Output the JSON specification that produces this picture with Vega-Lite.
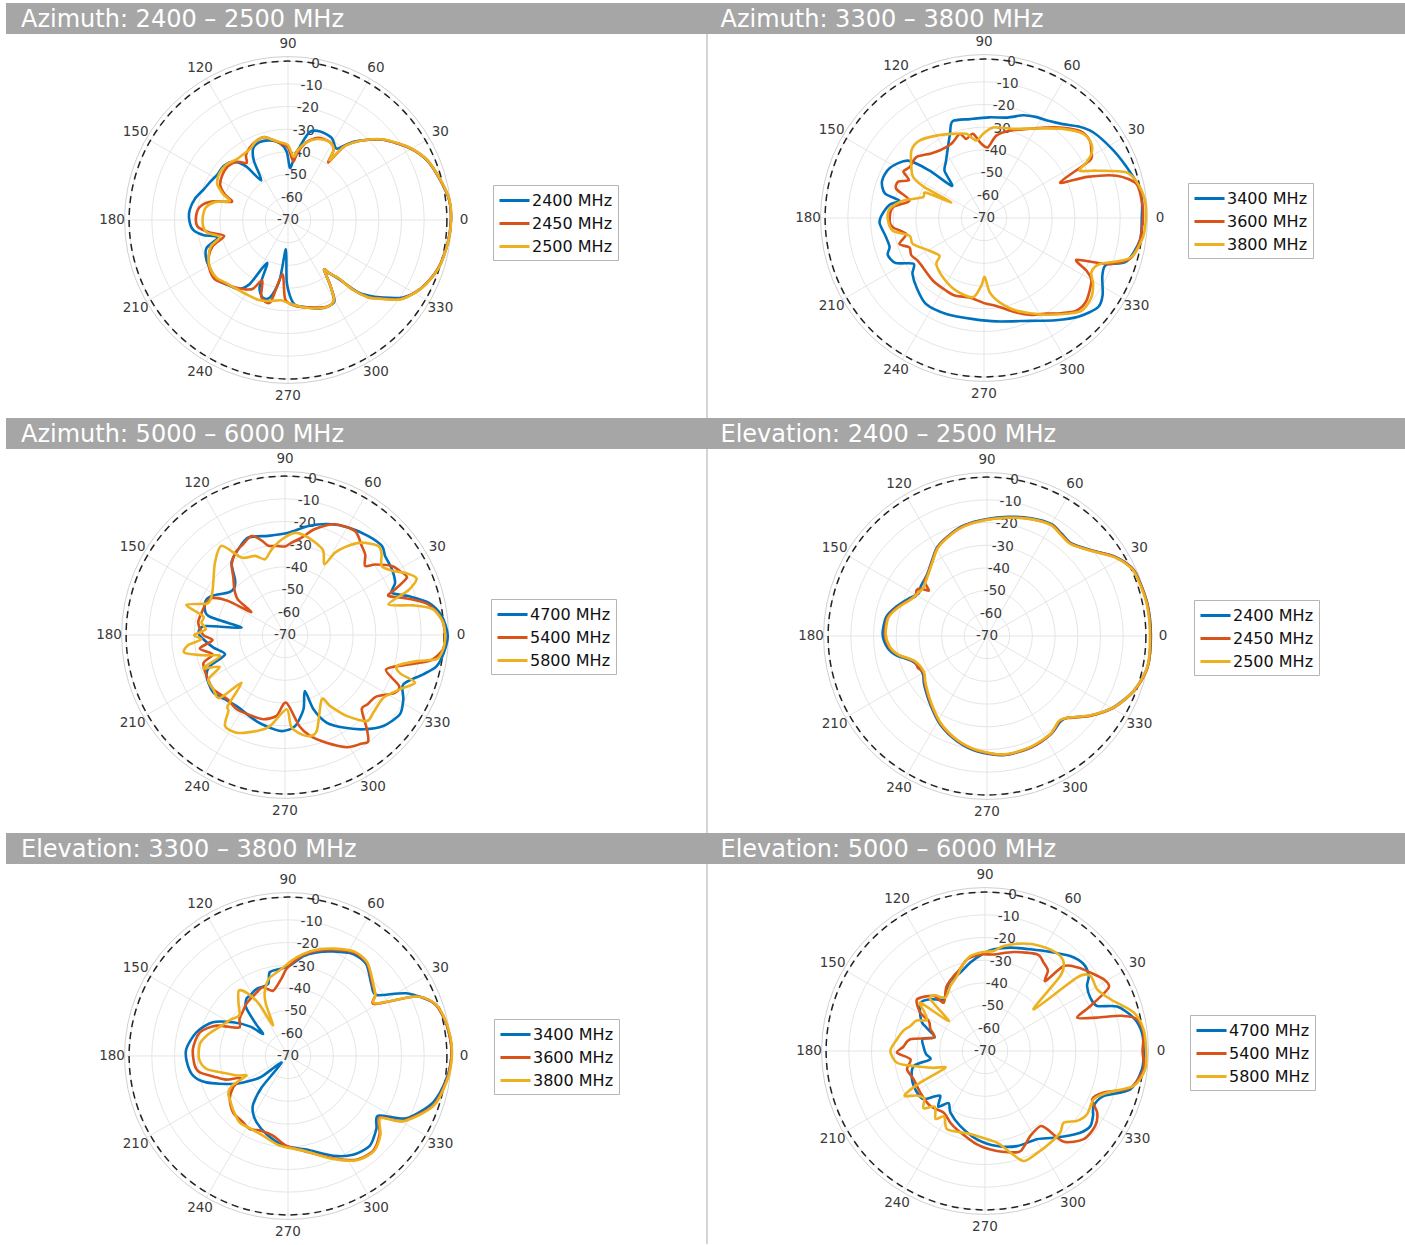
{
"$schema": "https://vega.github.io/schema/vega-lite/v6.json",
"background": "white",
"padding": {"left": 6, "top": 3, "right": 0, "bottom": 0},
"spacing": 0,
"config": {"font": "DejaVu Sans", "view": {"stroke": null}, "legend": {"title": null, "orient": "none", "direction": "vertical", "symbolType": "M-1.67,0L1.67,0", "symbolSize": 324, "symbolStrokeWidth": 3, "symbolOffset": 6, "labelFontSize": 16, "labelFont": "DejaVu Sans", "labelColor": "#111111", "labelOffset": 7, "rowPadding": 4, "padding": 5, "strokeColor": "#b5b5b5", "fillColor": "white"}},
"resolve": {"scale": {"color": "independent", "size": "independent", "x": "independent", "y": "independent"}, "legend": {"color": "independent"}},
"datasets": {
"spokes": [{"a":0},{"a":30},{"a":60},{"a":90},{"a":120},{"a":150},{"a":180},{"a":210},{"a":240},{"a":270},{"a":300},{"a":330}],
"alabels": [{"a":0},{"a":30},{"a":60},{"a":90},{"a":120},{"a":150},{"a":180},{"a":210},{"a":240},{"a":270},{"a":300},{"a":330}],
"rings": [{"r":10},{"r":20},{"r":30},{"r":40},{"r":50},{"r":60},{"r":70}],
"rlabels": [{"v":0},{"v":-10},{"v":-20},{"v":-30},{"v":-40},{"v":-50},{"v":-60},{"v":-70}],
"d1": [
{"f":"2400 MHz","a":0,"g":1.8},{"f":"2400 MHz","a":7,"g":1.6},{"f":"2400 MHz","a":14,"g":-0.4},{"f":"2400 MHz","a":23,"g":-3.2},{"f":"2400 MHz","a":31,"g":-8},{"f":"2400 MHz","a":40,"g":-15},{"f":"2400 MHz","a":45,"g":-20},{"f":"2400 MHz","a":50,"g":-25},{"f":"2400 MHz","a":53,"g":-29},{"f":"2400 MHz","a":56,"g":-32},{"f":"2400 MHz","a":62,"g":-29},{"f":"2400 MHz","a":70,"g":-28.5},{"f":"2400 MHz","a":76,"g":-30},{"f":"2400 MHz","a":80,"g":-36},{"f":"2400 MHz","a":85,"g":-44},{"f":"2400 MHz","a":88,"g":-47},{"f":"2400 MHz","a":91,"g":-40},{"f":"2400 MHz","a":96,"g":-36},{"f":"2400 MHz","a":103,"g":-34},{"f":"2400 MHz","a":110,"g":-33.5},{"f":"2400 MHz","a":116,"g":-35},{"f":"2400 MHz","a":120,"g":-40},{"f":"2400 MHz","a":124,"g":-49},{"f":"2400 MHz","a":128,"g":-40},{"f":"2400 MHz","a":133,"g":-35},{"f":"2400 MHz","a":140,"g":-33},{"f":"2400 MHz","a":147,"g":-33},{"f":"2400 MHz","a":153,"g":-32},{"f":"2400 MHz","a":160,"g":-30.5},{"f":"2400 MHz","a":167,"g":-28},{"f":"2400 MHz","a":174,"g":-26.5},{"f":"2400 MHz","a":180,"g":-26.5},{"f":"2400 MHz","a":186,"g":-28},{"f":"2400 MHz","a":190,"g":-32},{"f":"2400 MHz","a":194,"g":-38},{"f":"2400 MHz","a":199,"g":-32},{"f":"2400 MHz","a":206,"g":-30},{"f":"2400 MHz","a":213,"g":-29.5},{"f":"2400 MHz","a":220,"g":-29},{"f":"2400 MHz","a":227,"g":-31},{"f":"2400 MHz","a":234,"g":-32.5},{"f":"2400 MHz","a":239,"g":-37},{"f":"2400 MHz","a":244,"g":-49},{"f":"2400 MHz","a":247,"g":-38},{"f":"2400 MHz","a":252,"g":-34},{"f":"2400 MHz","a":257,"g":-35},{"f":"2400 MHz","a":262,"g":-43},{"f":"2400 MHz","a":266,"g":-57},{"f":"2400 MHz","a":269,"g":-42},{"f":"2400 MHz","a":274,"g":-33},{"f":"2400 MHz","a":283,"g":-30.5},{"f":"2400 MHz","a":290,"g":-28.5},{"f":"2400 MHz","a":296,"g":-28},{"f":"2400 MHz","a":300,"g":-29},{"f":"2400 MHz","a":303,"g":-36},{"f":"2400 MHz","a":306,"g":-43},{"f":"2400 MHz","a":308,"g":-40},{"f":"2400 MHz","a":311,"g":-35},{"f":"2400 MHz","a":314,"g":-26},{"f":"2400 MHz","a":317,"g":-21},{"f":"2400 MHz","a":320,"g":-17},{"f":"2400 MHz","a":326,"g":-9},{"f":"2400 MHz","a":333,"g":-4},{"f":"2400 MHz","a":342,"g":-0.5},{"f":"2400 MHz","a":352,"g":1.1},
{"f":"2450 MHz","a":0,"g":1.8},{"f":"2450 MHz","a":7,"g":1.6},{"f":"2450 MHz","a":14,"g":-0.4},{"f":"2450 MHz","a":23,"g":-3.2},{"f":"2450 MHz","a":31,"g":-8},{"f":"2450 MHz","a":40,"g":-15},{"f":"2450 MHz","a":45,"g":-20},{"f":"2450 MHz","a":50,"g":-25.5},{"f":"2450 MHz","a":53,"g":-30},{"f":"2450 MHz","a":55,"g":-39},{"f":"2450 MHz","a":57,"g":-33},{"f":"2450 MHz","a":62,"g":-31},{"f":"2450 MHz","a":70,"g":-31.5},{"f":"2450 MHz","a":77,"g":-35},{"f":"2450 MHz","a":82,"g":-40},{"f":"2450 MHz","a":85,"g":-44},{"f":"2450 MHz","a":90,"g":-38},{"f":"2450 MHz","a":96,"g":-36},{"f":"2450 MHz","a":101,"g":-34},{"f":"2450 MHz","a":106,"g":-32},{"f":"2450 MHz","a":112,"g":-32.5},{"f":"2450 MHz","a":118,"g":-34},{"f":"2450 MHz","a":123,"g":-36},{"f":"2450 MHz","a":126,"g":-39},{"f":"2450 MHz","a":131,"g":-36},{"f":"2450 MHz","a":138,"g":-34.5},{"f":"2450 MHz","a":146,"g":-35},{"f":"2450 MHz","a":153,"g":-36.5},{"f":"2450 MHz","a":158,"g":-40},{"f":"2450 MHz","a":162,"g":-44},{"f":"2450 MHz","a":166,"g":-36},{"f":"2450 MHz","a":171,"g":-31},{"f":"2450 MHz","a":177,"g":-29.5},{"f":"2450 MHz","a":184,"g":-30},{"f":"2450 MHz","a":189,"g":-35},{"f":"2450 MHz","a":194,"g":-41},{"f":"2450 MHz","a":199,"g":-35},{"f":"2450 MHz","a":206,"g":-31},{"f":"2450 MHz","a":213,"g":-29},{"f":"2450 MHz","a":219,"g":-28.5},{"f":"2450 MHz","a":225,"g":-30.5},{"f":"2450 MHz","a":231,"g":-32},{"f":"2450 MHz","a":238,"g":-34},{"f":"2450 MHz","a":243,"g":-36},{"f":"2450 MHz","a":247,"g":-41},{"f":"2450 MHz","a":251,"g":-34},{"f":"2450 MHz","a":258,"g":-33},{"f":"2450 MHz","a":264,"g":-46},{"f":"2450 MHz","a":268,"g":-35},{"f":"2450 MHz","a":275,"g":-32},{"f":"2450 MHz","a":283,"g":-30.5},{"f":"2450 MHz","a":290,"g":-29},{"f":"2450 MHz","a":295,"g":-28},{"f":"2450 MHz","a":300,"g":-29.5},{"f":"2450 MHz","a":303,"g":-36},{"f":"2450 MHz","a":306,"g":-43},{"f":"2450 MHz","a":308,"g":-40},{"f":"2450 MHz","a":311,"g":-36},{"f":"2450 MHz","a":313,"g":-28},{"f":"2450 MHz","a":316,"g":-21},{"f":"2450 MHz","a":319,"g":-17.4},{"f":"2450 MHz","a":325,"g":-9.3},{"f":"2450 MHz","a":333,"g":-4},{"f":"2450 MHz","a":342,"g":-0.5},{"f":"2450 MHz","a":352,"g":1.1},
{"f":"2500 MHz","a":0,"g":1.9},{"f":"2500 MHz","a":7,"g":1.7},{"f":"2500 MHz","a":14,"g":-0.3},{"f":"2500 MHz","a":23,"g":-3.1},{"f":"2500 MHz","a":31,"g":-7.8},{"f":"2500 MHz","a":40,"g":-14.8},{"f":"2500 MHz","a":45,"g":-19.8},{"f":"2500 MHz","a":50,"g":-25.5},{"f":"2500 MHz","a":53,"g":-30},{"f":"2500 MHz","a":55,"g":-38},{"f":"2500 MHz","a":57,"g":-33},{"f":"2500 MHz","a":62,"g":-31},{"f":"2500 MHz","a":70,"g":-32},{"f":"2500 MHz","a":77,"g":-35},{"f":"2500 MHz","a":82,"g":-39},{"f":"2500 MHz","a":85,"g":-42},{"f":"2500 MHz","a":90,"g":-37},{"f":"2500 MHz","a":96,"g":-35.5},{"f":"2500 MHz","a":101,"g":-34},{"f":"2500 MHz","a":106,"g":-32},{"f":"2500 MHz","a":112,"g":-32.5},{"f":"2500 MHz","a":118,"g":-34.5},{"f":"2500 MHz","a":124,"g":-35},{"f":"2500 MHz","a":130,"g":-35},{"f":"2500 MHz","a":138,"g":-33.5},{"f":"2500 MHz","a":146,"g":-33.5},{"f":"2500 MHz","a":153,"g":-35},{"f":"2500 MHz","a":158,"g":-39},{"f":"2500 MHz","a":162,"g":-43},{"f":"2500 MHz","a":166,"g":-37},{"f":"2500 MHz","a":171,"g":-33.5},{"f":"2500 MHz","a":177,"g":-32.5},{"f":"2500 MHz","a":184,"g":-32.5},{"f":"2500 MHz","a":189,"g":-34},{"f":"2500 MHz","a":194,"g":-39},{"f":"2500 MHz","a":199,"g":-34},{"f":"2500 MHz","a":206,"g":-31},{"f":"2500 MHz","a":213,"g":-29.5},{"f":"2500 MHz","a":219,"g":-29.5},{"f":"2500 MHz","a":225,"g":-31},{"f":"2500 MHz","a":232,"g":-32},{"f":"2500 MHz","a":240,"g":-32.5},{"f":"2500 MHz","a":250,"g":-32.5},{"f":"2500 MHz","a":258,"g":-33.5},{"f":"2500 MHz","a":265,"g":-34.5},{"f":"2500 MHz","a":272,"g":-33},{"f":"2500 MHz","a":280,"g":-31},{"f":"2500 MHz","a":288,"g":-29},{"f":"2500 MHz","a":295,"g":-28},{"f":"2500 MHz","a":300,"g":-29.5},{"f":"2500 MHz","a":303,"g":-36},{"f":"2500 MHz","a":306,"g":-43},{"f":"2500 MHz","a":308,"g":-40},{"f":"2500 MHz","a":311,"g":-36},{"f":"2500 MHz","a":313,"g":-28},{"f":"2500 MHz","a":316,"g":-21},{"f":"2500 MHz","a":319,"g":-17.2},{"f":"2500 MHz","a":325,"g":-9.1},{"f":"2500 MHz","a":333,"g":-3.9},{"f":"2500 MHz","a":342,"g":-0.4},{"f":"2500 MHz","a":352,"g":1.2}
],
"d2": [
{"f":"3400 MHz","a":0,"g":-0.5},{"f":"3400 MHz","a":6,"g":0},{"f":"3400 MHz","a":11,"g":-0.2},{"f":"3400 MHz","a":20,"g":-3.4},{"f":"3400 MHz","a":28,"g":-5.8},{"f":"3400 MHz","a":38,"g":-8.8},{"f":"3400 MHz","a":44,"g":-12},{"f":"3400 MHz","a":50,"g":-16},{"f":"3400 MHz","a":56,"g":-18.5},{"f":"3400 MHz","a":63,"g":-20},{"f":"3400 MHz","a":69,"g":-21.5},{"f":"3400 MHz","a":77,"g":-24.6},{"f":"3400 MHz","a":87,"g":-25.6},{"f":"3400 MHz","a":98,"g":-26},{"f":"3400 MHz","a":108,"g":-25.2},{"f":"3400 MHz","a":112,"g":-30},{"f":"3400 MHz","a":117,"g":-35},{"f":"3400 MHz","a":124,"g":-40},{"f":"3400 MHz","a":130,"g":-43},{"f":"3400 MHz","a":135,"g":-50},{"f":"3400 MHz","a":139,"g":-38},{"f":"3400 MHz","a":143,"g":-28},{"f":"3400 MHz","a":152,"g":-23},{"f":"3400 MHz","a":160,"g":-22.2},{"f":"3400 MHz","a":166,"g":-25},{"f":"3400 MHz","a":168.5,"g":-32},{"f":"3400 MHz","a":172,"g":-28},{"f":"3400 MHz","a":179,"g":-24.7},{"f":"3400 MHz","a":183,"g":-24},{"f":"3400 MHz","a":191,"g":-26},{"f":"3400 MHz","a":197,"g":-26.5},{"f":"3400 MHz","a":201,"g":-24.6},{"f":"3400 MHz","a":207,"g":-26.3},{"f":"3400 MHz","a":213,"g":-33},{"f":"3400 MHz","a":218,"g":-30},{"f":"3400 MHz","a":226,"g":-27.3},{"f":"3400 MHz","a":236,"g":-24.3},{"f":"3400 MHz","a":249,"g":-24.6},{"f":"3400 MHz","a":264,"g":-25.2},{"f":"3400 MHz","a":277,"g":-24.1},{"f":"3400 MHz","a":294,"g":-20.4},{"f":"3400 MHz","a":305,"g":-15},{"f":"3400 MHz","a":314,"g":-9.7},{"f":"3400 MHz","a":322,"g":-6.2},{"f":"3400 MHz","a":327,"g":-7.7},{"f":"3400 MHz","a":334,"g":-12},{"f":"3400 MHz","a":339,"g":-12.4},{"f":"3400 MHz","a":343,"g":-4.4},{"f":"3400 MHz","a":352,"g":-0.6},
{"f":"3600 MHz","a":0,"g":0},{"f":"3600 MHz","a":5,"g":0},{"f":"3600 MHz","a":12.6,"g":-1.2},{"f":"3600 MHz","a":17.7,"g":-8.7},{"f":"3600 MHz","a":21.7,"g":-21},{"f":"3600 MHz","a":25,"g":-33},{"f":"3600 MHz","a":28.5,"g":-17},{"f":"3600 MHz","a":31.5,"g":-14.6},{"f":"3600 MHz","a":36,"g":-12.3},{"f":"3600 MHz","a":42,"g":-12.8},{"f":"3600 MHz","a":50,"g":-18},{"f":"3600 MHz","a":56,"g":-22},{"f":"3600 MHz","a":63,"g":-25.9},{"f":"3600 MHz","a":73.6,"g":-29.9},{"f":"3600 MHz","a":81.5,"g":-33.3},{"f":"3600 MHz","a":86.8,"g":-38.8},{"f":"3600 MHz","a":92,"g":-37.3},{"f":"3600 MHz","a":97.5,"g":-32.6},{"f":"3600 MHz","a":102.6,"g":-34.3},{"f":"3600 MHz","a":106.2,"g":-31.5},{"f":"3600 MHz","a":113.8,"g":-34.3},{"f":"3600 MHz","a":123.4,"g":-34.4},{"f":"3600 MHz","a":130,"g":-33},{"f":"3600 MHz","a":138,"g":-29.9},{"f":"3600 MHz","a":145.7,"g":-30.3},{"f":"3600 MHz","a":150,"g":-29},{"f":"3600 MHz","a":153.3,"g":-33},{"f":"3600 MHz","a":157,"g":-29},{"f":"3600 MHz","a":161.7,"g":-29.3},{"f":"3600 MHz","a":166.9,"g":-36.3},{"f":"3600 MHz","a":173.3,"g":-29.6},{"f":"3600 MHz","a":181.6,"g":-28.4},{"f":"3600 MHz","a":185.9,"g":-29.7},{"f":"3600 MHz","a":191.6,"g":-35},{"f":"3600 MHz","a":197,"g":-31},{"f":"3600 MHz","a":201.5,"g":-34.7},{"f":"3600 MHz","a":207,"g":-34},{"f":"3600 MHz","a":212.9,"g":-35.3},{"f":"3600 MHz","a":219,"g":-35.4},{"f":"3600 MHz","a":230.9,"g":-34.4},{"f":"3600 MHz","a":242.6,"g":-33.9},{"f":"3600 MHz","a":250,"g":-33.5},{"f":"3600 MHz","a":259.8,"g":-34.4},{"f":"3600 MHz","a":270,"g":-32.5},{"f":"3600 MHz","a":278,"g":-30.9},{"f":"3600 MHz","a":288.9,"g":-26},{"f":"3600 MHz","a":296,"g":-22.5},{"f":"3600 MHz","a":303.2,"g":-19.7},{"f":"3600 MHz","a":309,"g":-16},{"f":"3600 MHz","a":314.9,"g":-12.4},{"f":"3600 MHz","a":321,"g":-12},{"f":"3600 MHz","a":329.7,"g":-15.2},{"f":"3600 MHz","a":332.8,"g":-19.3},{"f":"3600 MHz","a":335.7,"g":-25.3},{"f":"3600 MHz","a":339.4,"g":-12.4},{"f":"3600 MHz","a":344.3,"g":-3.3},{"f":"3600 MHz","a":351.7,"g":-0.6},
{"f":"3800 MHz","a":0,"g":1.3},{"f":"3800 MHz","a":6.2,"g":1.3},{"f":"3800 MHz","a":12.5,"g":-0.5},{"f":"3800 MHz","a":17.8,"g":-4.2},{"f":"3800 MHz","a":22.8,"g":-16.2},{"f":"3800 MHz","a":26.3,"g":-23},{"f":"3800 MHz","a":28.5,"g":-18.6},{"f":"3800 MHz","a":30.8,"g":-14.9},{"f":"3800 MHz","a":34.6,"g":-12.5},{"f":"3800 MHz","a":40.3,"g":-12.7},{"f":"3800 MHz","a":48.4,"g":-17.5},{"f":"3800 MHz","a":59.7,"g":-24.3},{"f":"3800 MHz","a":72,"g":-28.7},{"f":"3800 MHz","a":84.3,"g":-29.9},{"f":"3800 MHz","a":90.7,"g":-33},{"f":"3800 MHz","a":95.7,"g":-35.7},{"f":"3800 MHz","a":101.9,"g":-32.1},{"f":"3800 MHz","a":110.3,"g":-30.5},{"f":"3800 MHz","a":120,"g":-28.1},{"f":"3800 MHz","a":129.8,"g":-25.6},{"f":"3800 MHz","a":137,"g":-26.3},{"f":"3800 MHz","a":145,"g":-30.9},{"f":"3800 MHz","a":150,"g":-34},{"f":"3800 MHz","a":152.5,"g":-40},{"f":"3800 MHz","a":154.4,"g":-54},{"f":"3800 MHz","a":156.5,"g":-42},{"f":"3800 MHz","a":161.3,"g":-41.6},{"f":"3800 MHz","a":167.9,"g":-33.5},{"f":"3800 MHz","a":174.5,"g":-28.2},{"f":"3800 MHz","a":180.6,"g":-27.6},{"f":"3800 MHz","a":187.9,"g":-29.4},{"f":"3800 MHz","a":193.4,"g":-36.3},{"f":"3800 MHz","a":200.1,"g":-36.6},{"f":"3800 MHz","a":211,"g":-42},{"f":"3800 MHz","a":220.4,"g":-44.3},{"f":"3800 MHz","a":224,"g":-40.8},{"f":"3800 MHz","a":235.4,"g":-38.2},{"f":"3800 MHz","a":249,"g":-35.7},{"f":"3800 MHz","a":262,"g":-34.7},{"f":"3800 MHz","a":267.7,"g":-40.1},{"f":"3800 MHz","a":270.7,"g":-44},{"f":"3800 MHz","a":274.4,"g":-37.1},{"f":"3800 MHz","a":280.5,"g":-32.2},{"f":"3800 MHz","a":289.2,"g":-26.8},{"f":"3800 MHz","a":302.8,"g":-19.3},{"f":"3800 MHz","a":315.7,"g":-11},{"f":"3800 MHz","a":323.5,"g":-11.2},{"f":"3800 MHz","a":328.8,"g":-13.8},{"f":"3800 MHz","a":333.2,"g":-17},{"f":"3800 MHz","a":338.3,"g":-15.1},{"f":"3800 MHz","a":344.6,"g":-3.4},{"f":"3800 MHz","a":353,"g":0.5}
],
"d3": [
{"f":"4700 MHz","a":0,"g":1.7},{"f":"4700 MHz","a":7,"g":-0.5},{"f":"4700 MHz","a":12.7,"g":-5.2},{"f":"4700 MHz","a":17.5,"g":-13},{"f":"4700 MHz","a":21.6,"g":-19.4},{"f":"4700 MHz","a":25.4,"g":-16.3},{"f":"4700 MHz","a":31.6,"g":-14.7},{"f":"4700 MHz","a":38.3,"g":-13.8},{"f":"4700 MHz","a":42.6,"g":-12},{"f":"4700 MHz","a":49.9,"g":-13},{"f":"4700 MHz","a":59.5,"g":-15},{"f":"4700 MHz","a":68.6,"g":-17.5},{"f":"4700 MHz","a":77.9,"g":-20.9},{"f":"4700 MHz","a":88.1,"g":-24.9},{"f":"4700 MHz","a":99.6,"g":-25.7},{"f":"4700 MHz","a":110.6,"g":-24.1},{"f":"4700 MHz","a":118.6,"g":-27},{"f":"4700 MHz","a":126.4,"g":-30.3},{"f":"4700 MHz","a":131.9,"g":-37},{"f":"4700 MHz","a":137,"g":-39.5},{"f":"4700 MHz","a":143.2,"g":-38.8},{"f":"4700 MHz","a":152,"g":-33.4},{"f":"4700 MHz","a":158,"g":-32},{"f":"4700 MHz","a":166,"g":-35.2},{"f":"4700 MHz","a":170.4,"g":-50.6},{"f":"4700 MHz","a":173.6,"g":-34.6},{"f":"4700 MHz","a":178.5,"g":-31.8},{"f":"4700 MHz","a":183,"g":-34},{"f":"4700 MHz","a":190,"g":-38},{"f":"4700 MHz","a":197.9,"g":-42.2},{"f":"4700 MHz","a":202.5,"g":-34.3},{"f":"4700 MHz","a":207.6,"g":-31},{"f":"4700 MHz","a":218.8,"g":-29.5},{"f":"4700 MHz","a":228.6,"g":-31.5},{"f":"4700 MHz","a":235.8,"g":-32.1},{"f":"4700 MHz","a":251.8,"g":-30},{"f":"4700 MHz","a":264,"g":-28.1},{"f":"4700 MHz","a":269,"g":-27.7},{"f":"4700 MHz","a":276.3,"g":-29.6},{"f":"4700 MHz","a":283.9,"g":-36.2},{"f":"4700 MHz","a":289.5,"g":-43.8},{"f":"4700 MHz","a":291,"g":-35},{"f":"4700 MHz","a":295.4,"g":-27.3},{"f":"4700 MHz","a":302.2,"g":-21.8},{"f":"4700 MHz","a":309.7,"g":-16},{"f":"4700 MHz","a":317.2,"g":-11},{"f":"4700 MHz","a":325.4,"g":-8.5},{"f":"4700 MHz","a":331.5,"g":-10.7},{"f":"4700 MHz","a":337.4,"g":-13.5},{"f":"4700 MHz","a":344.1,"g":-6.7},{"f":"4700 MHz","a":348.4,"g":-1.8},{"f":"4700 MHz","a":354,"g":0.5},
{"f":"5400 MHz","a":0,"g":0.5},{"f":"5400 MHz","a":5.7,"g":-0.6},{"f":"5400 MHz","a":12,"g":-5.4},{"f":"5400 MHz","a":16.4,"g":-13.3},{"f":"5400 MHz","a":20.7,"g":-21.3},{"f":"5400 MHz","a":22.5,"g":-17.5},{"f":"5400 MHz","a":25.2,"g":-10.7},{"f":"5400 MHz","a":29,"g":-12},{"f":"5400 MHz","a":32.9,"g":-14},{"f":"5400 MHz","a":38,"g":-19.6},{"f":"5400 MHz","a":40.8,"g":-23.4},{"f":"5400 MHz","a":45,"g":-20},{"f":"5400 MHz","a":49.3,"g":-18.2},{"f":"5400 MHz","a":56,"g":-14.8},{"f":"5400 MHz","a":65.7,"g":-16.5},{"f":"5400 MHz","a":74.2,"g":-21.5},{"f":"5400 MHz","a":80.3,"g":-26.5},{"f":"5400 MHz","a":85.9,"g":-29.2},{"f":"5400 MHz","a":90,"g":-31},{"f":"5400 MHz","a":95.3,"g":-30.6},{"f":"5400 MHz","a":100.6,"g":-30},{"f":"5400 MHz","a":104,"g":-27},{"f":"5400 MHz","a":108.6,"g":-24},{"f":"5400 MHz","a":115,"g":-26},{"f":"5400 MHz","a":121,"g":-27.6},{"f":"5400 MHz","a":127,"g":-31},{"f":"5400 MHz","a":132,"g":-36},{"f":"5400 MHz","a":138,"g":-40},{"f":"5400 MHz","a":143,"g":-44},{"f":"5400 MHz","a":146,"g":-52},{"f":"5400 MHz","a":149,"g":-41},{"f":"5400 MHz","a":153,"g":-34},{"f":"5400 MHz","a":158,"g":-32.5},{"f":"5400 MHz","a":165,"g":-32},{"f":"5400 MHz","a":172,"g":-31.4},{"f":"5400 MHz","a":180,"g":-34},{"f":"5400 MHz","a":184,"g":-38},{"f":"5400 MHz","a":189,"g":-32},{"f":"5400 MHz","a":195,"g":-37},{"f":"5400 MHz","a":199,"g":-32},{"f":"5400 MHz","a":208,"g":-31},{"f":"5400 MHz","a":217,"g":-30.4},{"f":"5400 MHz","a":228,"g":-32},{"f":"5400 MHz","a":237,"g":-31},{"f":"5400 MHz","a":247,"g":-31.5},{"f":"5400 MHz","a":255.6,"g":-31.7},{"f":"5400 MHz","a":264,"g":-34.2},{"f":"5400 MHz","a":271,"g":-40.2},{"f":"5400 MHz","a":279,"g":-29.3},{"f":"5400 MHz","a":284,"g":-24.2},{"f":"5400 MHz","a":291,"g":-19.2},{"f":"5400 MHz","a":299,"g":-13.5},{"f":"5400 MHz","a":305,"g":-11.5},{"f":"5400 MHz","a":308,"g":-10.5},{"f":"5400 MHz","a":311,"g":-15},{"f":"5400 MHz","a":316,"g":-23},{"f":"5400 MHz","a":320,"g":-22.5},{"f":"5400 MHz","a":326,"g":-21.5},{"f":"5400 MHz","a":332,"g":-15.5},{"f":"5400 MHz","a":336,"g":-15},{"f":"5400 MHz","a":341,"g":-23},{"f":"5400 MHz","a":346,"g":-15.5},{"f":"5400 MHz","a":350,"g":-5},{"f":"5400 MHz","a":355,"g":0},
{"f":"5800 MHz","a":0,"g":0.5},{"f":"5800 MHz","a":5,"g":-0.3},{"f":"5800 MHz","a":10,"g":-4},{"f":"5800 MHz","a":13,"g":-12},{"f":"5800 MHz","a":16.5,"g":-22.5},{"f":"5800 MHz","a":20,"g":-12},{"f":"5800 MHz","a":23.2,"g":-6.9},{"f":"5800 MHz","a":27,"g":-10},{"f":"5800 MHz","a":31,"g":-15},{"f":"5800 MHz","a":35.5,"g":-17.7},{"f":"5800 MHz","a":40,"g":-14.5},{"f":"5800 MHz","a":43.6,"g":-13.2},{"f":"5800 MHz","a":50.3,"g":-17.1},{"f":"5800 MHz","a":54.6,"g":-21.8},{"f":"5800 MHz","a":58.7,"g":-27.6},{"f":"5800 MHz","a":60.9,"g":-34.3},{"f":"5800 MHz","a":66,"g":-29},{"f":"5800 MHz","a":76.5,"g":-25.9},{"f":"5800 MHz","a":84.4,"g":-24.8},{"f":"5800 MHz","a":92,"g":-27.9},{"f":"5800 MHz","a":98.8,"g":-31.8},{"f":"5800 MHz","a":104.8,"g":-35.5},{"f":"5800 MHz","a":110.8,"g":-32.7},{"f":"5800 MHz","a":119.3,"g":-30.9},{"f":"5800 MHz","a":125.4,"g":-21.8},{"f":"5800 MHz","a":134,"g":-25.6},{"f":"5800 MHz","a":143.9,"g":-30.9},{"f":"5800 MHz","a":152,"g":-33.4},{"f":"5800 MHz","a":158,"g":-33},{"f":"5800 MHz","a":163,"g":-24.5},{"f":"5800 MHz","a":167,"g":-33},{"f":"5800 MHz","a":171.6,"g":-32.8},{"f":"5800 MHz","a":176,"g":-35},{"f":"5800 MHz","a":180,"g":-30},{"f":"5800 MHz","a":183,"g":-33},{"f":"5800 MHz","a":186,"g":-27},{"f":"5800 MHz","a":190,"g":-25},{"f":"5800 MHz","a":194,"g":-33},{"f":"5800 MHz","a":198,"g":-40},{"f":"5800 MHz","a":202,"g":-31},{"f":"5800 MHz","a":206,"g":-38},{"f":"5800 MHz","a":210,"g":-31},{"f":"5800 MHz","a":217,"g":-30.4},{"f":"5800 MHz","a":224,"g":-30},{"f":"5800 MHz","a":227.7,"g":-41.6},{"f":"5800 MHz","a":231,"g":-30},{"f":"5800 MHz","a":233.3,"g":-28.3},{"f":"5800 MHz","a":236.6,"g":-22},{"f":"5800 MHz","a":243.7,"g":-22},{"f":"5800 MHz","a":253.6,"g":-25.9},{"f":"5800 MHz","a":260.6,"g":-29.3},{"f":"5800 MHz","a":271.3,"g":-37.3},{"f":"5800 MHz","a":274.1,"g":-29},{"f":"5800 MHz","a":282.1,"g":-24.5},{"f":"5800 MHz","a":288.3,"g":-25.5},{"f":"5800 MHz","a":299.7,"g":-37.4},{"f":"5800 MHz","a":302.4,"g":-33},{"f":"5800 MHz","a":307.3,"g":-25.2},{"f":"5800 MHz","a":313.5,"g":-17.7},{"f":"5800 MHz","a":318.7,"g":-18.2},{"f":"5800 MHz","a":327.5,"g":-18.6},{"f":"5800 MHz","a":334.7,"g":-14},{"f":"5800 MHz","a":339.9,"g":-9},{"f":"5800 MHz","a":341.5,"g":-16.4},{"f":"5800 MHz","a":344.5,"g":-18.9},{"f":"5800 MHz","a":348.8,"g":-10.8},{"f":"5800 MHz","a":351,"g":-2.3},{"f":"5800 MHz","a":355,"g":0}
],
"d4": [
{"f":"2400 MHz","a":0,"g":2.2},{"f":"2400 MHz","a":11,"g":2.1},{"f":"2400 MHz","a":21,"g":1.3},{"f":"2400 MHz","a":25.5,"g":0.4},{"f":"2400 MHz","a":32,"g":-3.8},{"f":"2400 MHz","a":39.4,"g":-10.5},{"f":"2400 MHz","a":47.6,"g":-14.8},{"f":"2400 MHz","a":54,"g":-14.2},{"f":"2400 MHz","a":60,"g":-13.1},{"f":"2400 MHz","a":69.4,"g":-14.6},{"f":"2400 MHz","a":80,"g":-16.7},{"f":"2400 MHz","a":91.3,"g":-18.7},{"f":"2400 MHz","a":101.6,"g":-20.2},{"f":"2400 MHz","a":109.4,"g":-22.2},{"f":"2400 MHz","a":119,"g":-25},{"f":"2400 MHz","a":125.8,"g":-28.7},{"f":"2400 MHz","a":133.7,"g":-32},{"f":"2400 MHz","a":142.9,"g":-33.5},{"f":"2400 MHz","a":148,"g":-34.5},{"f":"2400 MHz","a":154,"g":-32},{"f":"2400 MHz","a":162,"g":-28},{"f":"2400 MHz","a":169.4,"g":-24.8},{"f":"2400 MHz","a":179,"g":-24},{"f":"2400 MHz","a":186.6,"g":-25.8},{"f":"2400 MHz","a":191.8,"g":-29},{"f":"2400 MHz","a":199.2,"g":-35.5},{"f":"2400 MHz","a":209.8,"g":-37.3},{"f":"2400 MHz","a":217.7,"g":-35},{"f":"2400 MHz","a":230.5,"g":-30.8},{"f":"2400 MHz","a":242.4,"g":-25.8},{"f":"2400 MHz","a":254.3,"g":-21.8},{"f":"2400 MHz","a":265.3,"g":-19},{"f":"2400 MHz","a":278.3,"g":-17},{"f":"2400 MHz","a":291.6,"g":-17.2},{"f":"2400 MHz","a":303,"g":-18.4},{"f":"2400 MHz","a":310.3,"g":-20.3},{"f":"2400 MHz","a":314.5,"g":-19.5},{"f":"2400 MHz","a":322.5,"g":-12.5},{"f":"2400 MHz","a":330.7,"g":-6},{"f":"2400 MHz","a":339.6,"g":-1},{"f":"2400 MHz","a":349,"g":2},
{"f":"2450 MHz","a":0,"g":2},{"f":"2450 MHz","a":11,"g":2},{"f":"2450 MHz","a":21,"g":1.2},{"f":"2450 MHz","a":25.5,"g":0.3},{"f":"2450 MHz","a":32,"g":-4},{"f":"2450 MHz","a":39.4,"g":-10.7},{"f":"2450 MHz","a":47.6,"g":-15.1},{"f":"2450 MHz","a":54,"g":-14.5},{"f":"2450 MHz","a":60,"g":-13.4},{"f":"2450 MHz","a":69.4,"g":-14.9},{"f":"2450 MHz","a":80,"g":-17},{"f":"2450 MHz","a":91.3,"g":-18.9},{"f":"2450 MHz","a":101.6,"g":-20.4},{"f":"2450 MHz","a":109.4,"g":-22.4},{"f":"2450 MHz","a":119,"g":-25.3},{"f":"2450 MHz","a":125.8,"g":-29},{"f":"2450 MHz","a":133.7,"g":-32.3},{"f":"2450 MHz","a":139,"g":-33.5},{"f":"2450 MHz","a":142,"g":-37.5},{"f":"2450 MHz","a":144.5,"g":-34},{"f":"2450 MHz","a":147,"g":-33},{"f":"2450 MHz","a":151,"g":-34},{"f":"2450 MHz","a":154,"g":-32.7},{"f":"2450 MHz","a":162,"g":-28.7},{"f":"2450 MHz","a":169.4,"g":-25.5},{"f":"2450 MHz","a":179,"g":-25},{"f":"2450 MHz","a":186.6,"g":-26.7},{"f":"2450 MHz","a":191.8,"g":-29.8},{"f":"2450 MHz","a":199.2,"g":-36.1},{"f":"2450 MHz","a":205,"g":-36.5},{"f":"2450 MHz","a":209.8,"g":-37.8},{"f":"2450 MHz","a":217.7,"g":-35.5},{"f":"2450 MHz","a":230.5,"g":-31.2},{"f":"2450 MHz","a":242.4,"g":-26.2},{"f":"2450 MHz","a":254.3,"g":-22.1},{"f":"2450 MHz","a":265.3,"g":-19.3},{"f":"2450 MHz","a":278.3,"g":-17.1},{"f":"2450 MHz","a":291.6,"g":-17.3},{"f":"2450 MHz","a":303,"g":-18.5},{"f":"2450 MHz","a":310.3,"g":-20.7},{"f":"2450 MHz","a":314.5,"g":-19.3},{"f":"2450 MHz","a":322.5,"g":-12.3},{"f":"2450 MHz","a":330.7,"g":-5.7},{"f":"2450 MHz","a":339.6,"g":-0.8},{"f":"2450 MHz","a":349,"g":2.1},
{"f":"2500 MHz","a":0,"g":1.8},{"f":"2500 MHz","a":11,"g":1.8},{"f":"2500 MHz","a":21,"g":1},{"f":"2500 MHz","a":25.5,"g":0.1},{"f":"2500 MHz","a":32,"g":-4.2},{"f":"2500 MHz","a":39.4,"g":-10.9},{"f":"2500 MHz","a":47.6,"g":-15.2},{"f":"2500 MHz","a":54,"g":-14.8},{"f":"2500 MHz","a":60,"g":-13.6},{"f":"2500 MHz","a":69.4,"g":-15},{"f":"2500 MHz","a":80,"g":-17.1},{"f":"2500 MHz","a":91.3,"g":-19},{"f":"2500 MHz","a":101.6,"g":-20.6},{"f":"2500 MHz","a":109.4,"g":-22.6},{"f":"2500 MHz","a":119,"g":-25.5},{"f":"2500 MHz","a":125.8,"g":-29.2},{"f":"2500 MHz","a":133.7,"g":-32.5},{"f":"2500 MHz","a":142.9,"g":-34.8},{"f":"2500 MHz","a":148,"g":-34.2},{"f":"2500 MHz","a":154,"g":-32.9},{"f":"2500 MHz","a":162,"g":-29},{"f":"2500 MHz","a":169.4,"g":-25.8},{"f":"2500 MHz","a":179,"g":-25.4},{"f":"2500 MHz","a":186.6,"g":-27},{"f":"2500 MHz","a":191.8,"g":-30},{"f":"2500 MHz","a":199.2,"g":-36.3},{"f":"2500 MHz","a":209.8,"g":-38},{"f":"2500 MHz","a":217.7,"g":-35.8},{"f":"2500 MHz","a":230.5,"g":-31.5},{"f":"2500 MHz","a":242.4,"g":-26.4},{"f":"2500 MHz","a":254.3,"g":-22.3},{"f":"2500 MHz","a":265.3,"g":-19.5},{"f":"2500 MHz","a":278.3,"g":-17.3},{"f":"2500 MHz","a":291.6,"g":-17.5},{"f":"2500 MHz","a":303,"g":-18.7},{"f":"2500 MHz","a":310.3,"g":-21},{"f":"2500 MHz","a":314.5,"g":-19.5},{"f":"2500 MHz","a":322.5,"g":-12.6},{"f":"2500 MHz","a":330.7,"g":-5.9},{"f":"2500 MHz","a":339.6,"g":-1},{"f":"2500 MHz","a":349,"g":1.9}
],
"d5": [
{"f":"3400 MHz","a":0,"g":2},{"f":"3400 MHz","a":7,"g":1.8},{"f":"3400 MHz","a":14.6,"g":0.5},{"f":"3400 MHz","a":20.3,"g":-1.9},{"f":"3400 MHz","a":27.9,"g":-11},{"f":"3400 MHz","a":34.6,"g":-22.7},{"f":"3400 MHz","a":40.8,"g":-21.5},{"f":"3400 MHz","a":49.6,"g":-16.8},{"f":"3400 MHz","a":57.5,"g":-16.7},{"f":"3400 MHz","a":66.7,"g":-19.9},{"f":"3400 MHz","a":74.7,"g":-22.7},{"f":"3400 MHz","a":81.4,"g":-25.6},{"f":"3400 MHz","a":88.9,"g":-30.2},{"f":"3400 MHz","a":95.5,"g":-31.5},{"f":"3400 MHz","a":102.4,"g":-32.3},{"f":"3400 MHz","a":105.5,"g":-37.1},{"f":"3400 MHz","a":115.3,"g":-37.4},{"f":"3400 MHz","a":122,"g":-38.5},{"f":"3400 MHz","a":126.2,"g":-38.9},{"f":"3400 MHz","a":131,"g":-42},{"f":"3400 MHz","a":135,"g":-50},{"f":"3400 MHz","a":138.7,"g":-55.3},{"f":"3400 MHz","a":142,"g":-49},{"f":"3400 MHz","a":148.5,"g":-41.6},{"f":"3400 MHz","a":155.8,"g":-33.7},{"f":"3400 MHz","a":165.5,"g":-28.3},{"f":"3400 MHz","a":176,"g":-25.1},{"f":"3400 MHz","a":183.6,"g":-25.4},{"f":"3400 MHz","a":191.7,"g":-27.3},{"f":"3400 MHz","a":197.9,"g":-32.2},{"f":"3400 MHz","a":207,"g":-42.8},{"f":"3400 MHz","a":213,"g":-50},{"f":"3400 MHz","a":218,"g":-55},{"f":"3400 MHz","a":226,"g":-66},{"f":"3400 MHz","a":230,"g":-52},{"f":"3400 MHz","a":234,"g":-44},{"f":"3400 MHz","a":238,"g":-40.8},{"f":"3400 MHz","a":244.5,"g":-37.7},{"f":"3400 MHz","a":254.5,"g":-34.3},{"f":"3400 MHz","a":266.8,"g":-30.5},{"f":"3400 MHz","a":281.1,"g":-28},{"f":"3400 MHz","a":294.3,"g":-21.8},{"f":"3400 MHz","a":303.3,"g":-17.9},{"f":"3400 MHz","a":312.3,"g":-16.5},{"f":"3400 MHz","a":320.4,"g":-19.5},{"f":"3400 MHz","a":326.5,"g":-22.4},{"f":"3400 MHz","a":332.2,"g":-11.1},{"f":"3400 MHz","a":342.3,"g":-2.9},{"f":"3400 MHz","a":351.7,"g":0.5},
{"f":"3600 MHz","a":0,"g":2},{"f":"3600 MHz","a":7,"g":1.8},{"f":"3600 MHz","a":14.6,"g":0.5},{"f":"3600 MHz","a":20.3,"g":-2},{"f":"3600 MHz","a":25,"g":-8},{"f":"3600 MHz","a":31,"g":-25.5},{"f":"3600 MHz","a":35,"g":-23},{"f":"3600 MHz","a":40.8,"g":-21},{"f":"3600 MHz","a":49.6,"g":-16.2},{"f":"3600 MHz","a":57.5,"g":-16},{"f":"3600 MHz","a":66.7,"g":-19},{"f":"3600 MHz","a":74.7,"g":-22},{"f":"3600 MHz","a":81.4,"g":-25},{"f":"3600 MHz","a":86,"g":-28},{"f":"3600 MHz","a":91.1,"g":-31.7},{"f":"3600 MHz","a":95,"g":-35.9},{"f":"3600 MHz","a":102.9,"g":-40.5},{"f":"3600 MHz","a":110,"g":-37.8},{"f":"3600 MHz","a":116.7,"g":-38.9},{"f":"3600 MHz","a":128.7,"g":-40.6},{"f":"3600 MHz","a":135,"g":-42},{"f":"3600 MHz","a":142.6,"g":-43.1},{"f":"3600 MHz","a":150,"g":-45},{"f":"3600 MHz","a":157,"g":-35.8},{"f":"3600 MHz","a":165,"g":-29.8},{"f":"3600 MHz","a":175.8,"g":-28},{"f":"3600 MHz","a":185.9,"g":-28.7},{"f":"3600 MHz","a":190.5,"g":-30.5},{"f":"3600 MHz","a":196.6,"g":-37.1},{"f":"3600 MHz","a":201,"g":-41},{"f":"3600 MHz","a":205,"g":-47},{"f":"3600 MHz","a":210,"g":-42},{"f":"3600 MHz","a":216.4,"g":-38.1},{"f":"3600 MHz","a":225.7,"g":-35.3},{"f":"3600 MHz","a":235.8,"g":-34.7},{"f":"3600 MHz","a":242.3,"g":-33.7},{"f":"3600 MHz","a":250,"g":-35},{"f":"3600 MHz","a":259.3,"g":-34.3},{"f":"3600 MHz","a":268.9,"g":-30.5},{"f":"3600 MHz","a":280.8,"g":-27.1},{"f":"3600 MHz","a":293.7,"g":-20.8},{"f":"3600 MHz","a":303.4,"g":-15.3},{"f":"3600 MHz","a":311.9,"g":-13.9},{"f":"3600 MHz","a":319.6,"g":-17},{"f":"3600 MHz","a":326.2,"g":-21.4},{"f":"3600 MHz","a":330.6,"g":-11.9},{"f":"3600 MHz","a":341.1,"g":-2.5},{"f":"3600 MHz","a":351.7,"g":0.8},
{"f":"3800 MHz","a":0,"g":2.2},{"f":"3800 MHz","a":7,"g":2},{"f":"3800 MHz","a":14.6,"g":0.7},{"f":"3800 MHz","a":20.3,"g":-1.8},{"f":"3800 MHz","a":25,"g":-8},{"f":"3800 MHz","a":31,"g":-25},{"f":"3800 MHz","a":35,"g":-23},{"f":"3800 MHz","a":40.8,"g":-20.5},{"f":"3800 MHz","a":49.6,"g":-16},{"f":"3800 MHz","a":57.5,"g":-15.5},{"f":"3800 MHz","a":66.7,"g":-18.5},{"f":"3800 MHz","a":74.7,"g":-21.5},{"f":"3800 MHz","a":81.4,"g":-24.5},{"f":"3800 MHz","a":88,"g":-28},{"f":"3800 MHz","a":93,"g":-31},{"f":"3800 MHz","a":98,"g":-33},{"f":"3800 MHz","a":104,"g":-35},{"f":"3800 MHz","a":110,"g":-40},{"f":"3800 MHz","a":113,"g":-45},{"f":"3800 MHz","a":116.3,"g":-55},{"f":"3800 MHz","a":119,"g":-44},{"f":"3800 MHz","a":123,"g":-37},{"f":"3800 MHz","a":127,"g":-34},{"f":"3800 MHz","a":133,"g":-38},{"f":"3800 MHz","a":140,"g":-42},{"f":"3800 MHz","a":148,"g":-40},{"f":"3800 MHz","a":155,"g":-38},{"f":"3800 MHz","a":159.4,"g":-36.2},{"f":"3800 MHz","a":166,"g":-33},{"f":"3800 MHz","a":172.3,"g":-30.8},{"f":"3800 MHz","a":181.9,"g":-30.8},{"f":"3800 MHz","a":189,"g":-33.6},{"f":"3800 MHz","a":195,"g":-41},{"f":"3800 MHz","a":201,"g":-46},{"f":"3800 MHz","a":205.3,"g":-49.7},{"f":"3800 MHz","a":208,"g":-42},{"f":"3800 MHz","a":212,"g":-39},{"f":"3800 MHz","a":216.4,"g":-38.1},{"f":"3800 MHz","a":225,"g":-36},{"f":"3800 MHz","a":233.9,"g":-33.8},{"f":"3800 MHz","a":243,"g":-34},{"f":"3800 MHz","a":252.6,"g":-33.2},{"f":"3800 MHz","a":264.7,"g":-30.4},{"f":"3800 MHz","a":280,"g":-27.5},{"f":"3800 MHz","a":293.7,"g":-20.5},{"f":"3800 MHz","a":303.4,"g":-15},{"f":"3800 MHz","a":311.9,"g":-13.5},{"f":"3800 MHz","a":319.6,"g":-16.5},{"f":"3800 MHz","a":326.2,"g":-21},{"f":"3800 MHz","a":330.6,"g":-11.5},{"f":"3800 MHz","a":341.1,"g":-2.2},{"f":"3800 MHz","a":351.7,"g":1}
],
"d6": [
{"f":"4700 MHz","a":0,"g":-0.1},{"f":"4700 MHz","a":6.7,"g":-0.4},{"f":"4700 MHz","a":12.6,"g":-2.9},{"f":"4700 MHz","a":18.6,"g":-8.6},{"f":"4700 MHz","a":21.9,"g":-16.8},{"f":"4700 MHz","a":26.9,"g":-18},{"f":"4700 MHz","a":32.5,"g":-16.7},{"f":"4700 MHz","a":35.9,"g":-13.6},{"f":"4700 MHz","a":41.3,"g":-12.1},{"f":"4700 MHz","a":48.1,"g":-13.8},{"f":"4700 MHz","a":56.6,"g":-17.7},{"f":"4700 MHz","a":65.9,"g":-20.9},{"f":"4700 MHz","a":76.2,"g":-23.1},{"f":"4700 MHz","a":85.1,"g":-25},{"f":"4700 MHz","a":90.8,"g":-27},{"f":"4700 MHz","a":99.4,"g":-30.5},{"f":"4700 MHz","a":107.5,"g":-33.8},{"f":"4700 MHz","a":116.3,"g":-35.6},{"f":"4700 MHz","a":122,"g":-38},{"f":"4700 MHz","a":128.7,"g":-40.9},{"f":"4700 MHz","a":136.6,"g":-36.8},{"f":"4700 MHz","a":143.2,"g":-34.5},{"f":"4700 MHz","a":150,"g":-37},{"f":"4700 MHz","a":155.8,"g":-39.6},{"f":"4700 MHz","a":160,"g":-44},{"f":"4700 MHz","a":165,"g":-47},{"f":"4700 MHz","a":169,"g":-42},{"f":"4700 MHz","a":176.9,"g":-43},{"f":"4700 MHz","a":183,"g":-44},{"f":"4700 MHz","a":188.7,"g":-45.6},{"f":"4700 MHz","a":191.9,"g":-37.9},{"f":"4700 MHz","a":201.2,"g":-35.5},{"f":"4700 MHz","a":211.5,"g":-34.9},{"f":"4700 MHz","a":218.2,"g":-35.6},{"f":"4700 MHz","a":222,"g":-40},{"f":"4700 MHz","a":225.2,"g":-42.1},{"f":"4700 MHz","a":230,"g":-38},{"f":"4700 MHz","a":235,"g":-42},{"f":"4700 MHz","a":240.7,"g":-38.9},{"f":"4700 MHz","a":251.8,"g":-35.2},{"f":"4700 MHz","a":264.8,"g":-30.9},{"f":"4700 MHz","a":277.2,"g":-27.8},{"f":"4700 MHz","a":288.6,"g":-25.8},{"f":"4700 MHz","a":300.5,"g":-24.9},{"f":"4700 MHz","a":307,"g":-22},{"f":"4700 MHz","a":312.6,"g":-18.8},{"f":"4700 MHz","a":319.4,"g":-14.7},{"f":"4700 MHz","a":324.5,"g":-13},{"f":"4700 MHz","a":329,"g":-14.5},{"f":"4700 MHz","a":333.2,"g":-16.4},{"f":"4700 MHz","a":339.2,"g":-14.1},{"f":"4700 MHz","a":345.2,"g":-3.8},{"f":"4700 MHz","a":353.3,"g":-0.4},
{"f":"5400 MHz","a":0,"g":-0.6},{"f":"5400 MHz","a":6.6,"g":0.3},{"f":"5400 MHz","a":11.8,"g":-1.6},{"f":"5400 MHz","a":14.5,"g":-8},{"f":"5400 MHz","a":16.6,"g":-18.5},{"f":"5400 MHz","a":19.9,"g":-26.8},{"f":"5400 MHz","a":23.1,"g":-19.5},{"f":"5400 MHz","a":27.1,"g":-8.8},{"f":"5400 MHz","a":31.1,"g":-8.9},{"f":"5400 MHz","a":36.6,"g":-12.1},{"f":"5400 MHz","a":42,"g":-15},{"f":"5400 MHz","a":47.2,"g":-19},{"f":"5400 MHz","a":49.2,"g":-29.3},{"f":"5400 MHz","a":52,"g":-25},{"f":"5400 MHz","a":56.4,"g":-23.3},{"f":"5400 MHz","a":61.7,"g":-21.6},{"f":"5400 MHz","a":73.9,"g":-24.6},{"f":"5400 MHz","a":84.9,"g":-27.3},{"f":"5400 MHz","a":92.8,"g":-27.4},{"f":"5400 MHz","a":101.1,"g":-28.9},{"f":"5400 MHz","a":107.5,"g":-32.5},{"f":"5400 MHz","a":112.7,"g":-34.2},{"f":"5400 MHz","a":121,"g":-37},{"f":"5400 MHz","a":130.5,"g":-42},{"f":"5400 MHz","a":133,"g":-36.8},{"f":"5400 MHz","a":142.8,"g":-32.4},{"f":"5400 MHz","a":149.3,"g":-36.8},{"f":"5400 MHz","a":152,"g":-42},{"f":"5400 MHz","a":158,"g":-44},{"f":"5400 MHz","a":165.4,"g":-46.6},{"f":"5400 MHz","a":171.1,"g":-36.7},{"f":"5400 MHz","a":177,"g":-34},{"f":"5400 MHz","a":181.1,"g":-31.2},{"f":"5400 MHz","a":186.4,"g":-37},{"f":"5400 MHz","a":193.2,"g":-34.7},{"f":"5400 MHz","a":201.7,"g":-36.2},{"f":"5400 MHz","a":212.8,"g":-36.1},{"f":"5400 MHz","a":225.2,"g":-35.8},{"f":"5400 MHz","a":236.2,"g":-37.3},{"f":"5400 MHz","a":244,"g":-35},{"f":"5400 MHz","a":250.3,"g":-33.3},{"f":"5400 MHz","a":265.1,"g":-28.7},{"f":"5400 MHz","a":276.8,"g":-25.6},{"f":"5400 MHz","a":288.4,"g":-23.1},{"f":"5400 MHz","a":293,"g":-25},{"f":"5400 MHz","a":298.1,"g":-27.6},{"f":"5400 MHz","a":306.4,"g":-28.9},{"f":"5400 MHz","a":308.5,"g":-26},{"f":"5400 MHz","a":311,"g":-17},{"f":"5400 MHz","a":318.2,"g":-11.7},{"f":"5400 MHz","a":325.8,"g":-11.3},{"f":"5400 MHz","a":331.2,"g":-13.6},{"f":"5400 MHz","a":335.7,"g":-18.2},{"f":"5400 MHz","a":340.7,"g":-14.6},{"f":"5400 MHz","a":345.8,"g":-4},{"f":"5400 MHz","a":353.4,"g":0.3},
{"f":"5800 MHz","a":0,"g":1},{"f":"5800 MHz","a":7.8,"g":0.5},{"f":"5800 MHz","a":14.5,"g":-2.3},{"f":"5800 MHz","a":22.4,"g":-10.2},{"f":"5800 MHz","a":28.8,"g":-13.6},{"f":"5800 MHz","a":35.5,"g":-13},{"f":"5800 MHz","a":38.6,"g":-18},{"f":"5800 MHz","a":40.6,"g":-41.8},{"f":"5800 MHz","a":44.9,"g":-23.2},{"f":"5800 MHz","a":48.3,"g":-17.9},{"f":"5800 MHz","a":53.6,"g":-16.5},{"f":"5800 MHz","a":62.2,"g":-17.7},{"f":"5800 MHz","a":70.2,"g":-19.7},{"f":"5800 MHz","a":79.9,"g":-23},{"f":"5800 MHz","a":85,"g":-25.8},{"f":"5800 MHz","a":90.8,"g":-26.4},{"f":"5800 MHz","a":98.8,"g":-27.7},{"f":"5800 MHz","a":105.1,"g":-31.2},{"f":"5800 MHz","a":110.5,"g":-34.8},{"f":"5800 MHz","a":118,"g":-37.5},{"f":"5800 MHz","a":126.6,"g":-40.7},{"f":"5800 MHz","a":132,"g":-37},{"f":"5800 MHz","a":136.6,"g":-36.8},{"f":"5800 MHz","a":140.5,"g":-49.3},{"f":"5800 MHz","a":143.2,"g":-34.5},{"f":"5800 MHz","a":147,"g":-38},{"f":"5800 MHz","a":152,"g":-41},{"f":"5800 MHz","a":156,"g":-37},{"f":"5800 MHz","a":161.5,"g":-35.3},{"f":"5800 MHz","a":166,"g":-33},{"f":"5800 MHz","a":172.4,"g":-30.9},{"f":"5800 MHz","a":180,"g":-28.3},{"f":"5800 MHz","a":187.6,"g":-30.9},{"f":"5800 MHz","a":191.9,"g":-37.9},{"f":"5800 MHz","a":198,"g":-46},{"f":"5800 MHz","a":203,"g":-51},{"f":"5800 MHz","a":206,"g":-38},{"f":"5800 MHz","a":209,"g":-29.5},{"f":"5800 MHz","a":213,"g":-34},{"f":"5800 MHz","a":218,"g":-36},{"f":"5800 MHz","a":223,"g":-33},{"f":"5800 MHz","a":228,"g":-37},{"f":"5800 MHz","a":234,"g":-33},{"f":"5800 MHz","a":238,"g":-36},{"f":"5800 MHz","a":244.1,"g":-31.7},{"f":"5800 MHz","a":255.4,"g":-32.8},{"f":"5800 MHz","a":264.6,"g":-32.4},{"f":"5800 MHz","a":277.5,"g":-29.3},{"f":"5800 MHz","a":284,"g":-23.9},{"f":"5800 MHz","a":289.4,"g":-18.6},{"f":"5800 MHz","a":297,"g":-19.5},{"f":"5800 MHz","a":305.5,"g":-20.4},{"f":"5800 MHz","a":312.7,"g":-21.1},{"f":"5800 MHz","a":317.7,"g":-23.1},{"f":"5800 MHz","a":323,"g":-19},{"f":"5800 MHz","a":328.2,"g":-17.1},{"f":"5800 MHz","a":336,"g":-17.6},{"f":"5800 MHz","a":341.1,"g":-13.2},{"f":"5800 MHz","a":346.8,"g":-2.7},{"f":"5800 MHz","a":353.5,"g":1}
]
},
"vconcat": [
{"width": 1399, "height": 31, "view": {"fill": "#a6a6a6", "stroke": null},
 "data": {"values": [{"side": "L", "t": "Azimuth: 2400 – 2500 MHz"}, {"side": "R", "t": "Azimuth: 3300 – 3800 MHz"}]},
 "mark": {"type": "text", "align": "left", "baseline": "middle", "dx": 15, "dy": 1, "fontSize": 24, "color": "white", "font": "DejaVu Sans"},
 "encoding": {"x": {"field": "side", "type": "nominal", "bandPosition": 0, "scale": {"type": "band", "domain": ["L", "R"], "paddingInner": 0, "paddingOuter": 0}, "axis": null}, "text": {"field": "t", "type": "nominal"}}},
{"hconcat": [
 {"width": 700, "height": 384,
  "layer": [
   {"data": {"name": "spokes"}, "transform": [{"calculate": "72*cos(datum.a*PI/180)", "as": "ex"}, {"calculate": "72*sin(datum.a*PI/180)", "as": "ey"}],
    "mark": {"type": "rule", "color": "#e2e2e2", "strokeWidth": 0.9},
    "encoding": {"x": {"field": "ex", "type": "quantitative", "scale": {"domain": [-124.23, 184.14], "nice": false, "zero": false}, "axis": null}, "y": {"field": "ey", "type": "quantitative", "scale": {"domain": [-87.22, 81.94], "nice": false, "zero": false}, "axis": null}, "x2": {"datum": 0}, "y2": {"datum": 0}}},
   {"data": {"name": "rings"}, "transform": [{"calculate": "4*pow(datum.r*2.27,2)", "as": "s"}],
    "mark": {"type": "point", "shape": "circle", "filled": false, "color": "#e2e2e2", "strokeWidth": 0.9, "opacity": 1},
    "encoding": {"x": {"datum": 0, "type": "quantitative", "scale": {"domain": [-124.23, 184.14], "nice": false, "zero": false}, "axis": null}, "y": {"datum": 0, "type": "quantitative", "scale": {"domain": [-87.22, 81.94], "nice": false, "zero": false}, "axis": null}, "size": {"field": "s", "type": "quantitative", "scale": null, "legend": null}}},
   {"data": {"values": [{"r": 72}]}, "transform": [{"calculate": "4*pow(datum.r*2.27,2)", "as": "s"}],
    "mark": {"type": "point", "shape": "circle", "filled": false, "color": "#d0d0d0", "strokeWidth": 1, "opacity": 1},
    "encoding": {"x": {"datum": 0, "type": "quantitative", "scale": {"domain": [-124.23, 184.14], "nice": false, "zero": false}, "axis": null}, "y": {"datum": 0, "type": "quantitative", "scale": {"domain": [-87.22, 81.94], "nice": false, "zero": false}, "axis": null}, "size": {"field": "s", "type": "quantitative", "scale": null, "legend": null}}},
   {"data": {"name": "alabels"}, "transform": [{"calculate": "77.5*cos(datum.a*PI/180)", "as": "px"}, {"calculate": "77.5*sin(datum.a*PI/180)", "as": "py"}],
    "mark": {"type": "text", "fontSize": 13.5, "color": "#3a3a3a", "align": "center", "baseline": "middle"},
    "encoding": {"x": {"field": "px", "type": "quantitative", "scale": {"domain": [-124.23, 184.14], "nice": false, "zero": false}, "axis": null}, "y": {"field": "py", "type": "quantitative", "scale": {"domain": [-87.22, 81.94], "nice": false, "zero": false}, "axis": null}, "text": {"field": "a", "type": "nominal"}}},
   {"data": {"name": "rlabels"}, "transform": [{"calculate": "(datum.v+70)*cos(80*PI/180)", "as": "px"}, {"calculate": "(datum.v+70)*sin(80*PI/180)", "as": "py"}],
    "mark": {"type": "text", "fontSize": 13.5, "color": "#3a3a3a", "align": "center", "baseline": "middle"},
    "encoding": {"x": {"field": "px", "type": "quantitative", "scale": {"domain": [-124.23, 184.14], "nice": false, "zero": false}, "axis": null}, "y": {"field": "py", "type": "quantitative", "scale": {"domain": [-87.22, 81.94], "nice": false, "zero": false}, "axis": null}, "text": {"field": "v", "type": "nominal"}}},
   {"data": {"values": [{"r": 70}]}, "transform": [{"calculate": "4*pow(datum.r*2.27,2)", "as": "s"}],
    "mark": {"type": "point", "shape": "circle", "filled": false, "color": "#222222", "strokeWidth": 1.5, "strokeDash": [7, 5], "opacity": 1},
    "encoding": {"x": {"datum": 0, "type": "quantitative", "scale": {"domain": [-124.23, 184.14], "nice": false, "zero": false}, "axis": null}, "y": {"datum": 0, "type": "quantitative", "scale": {"domain": [-87.22, 81.94], "nice": false, "zero": false}, "axis": null}, "size": {"field": "s", "type": "quantitative", "scale": null, "legend": null}}},
   {"data": {"name": "d1"}, "transform": [{"calculate": "(datum.g+70)*cos(datum.a*PI/180)", "as": "px"}, {"calculate": "(datum.g+70)*sin(datum.a*PI/180)", "as": "py"}],
    "mark": {"type": "line", "strokeWidth": 2.6, "interpolate": "cardinal-closed", "tension": 0.2},
    "encoding": {"x": {"field": "px", "type": "quantitative", "scale": {"domain": [-124.23, 184.14], "nice": false, "zero": false}, "axis": null}, "y": {"field": "py", "type": "quantitative", "scale": {"domain": [-87.22, 81.94], "nice": false, "zero": false}, "axis": null}, "order": {"field": "a", "type": "quantitative"},
     "color": {"field": "f", "type": "nominal", "scale": {"domain": ["2400 MHz", "2450 MHz", "2500 MHz"], "range": ["#0072BD", "#D95319", "#EDB120"]}, "legend": {"legendX": 487, "legendY": 151}}}}
  ]},
 {"width": 2, "height": 384, "view": {"fill": "#d4d4d4", "stroke": null}, "data": {"values": [{"k": 1}]}, "mark": {"type": "text"}, "encoding": {"text": {"value": ""}}},
 {"width": 697, "height": 384,
  "layer": [
   {"data": {"name": "spokes"}, "transform": [{"calculate": "72*cos(datum.a*PI/180)", "as": "ex"}, {"calculate": "72*sin(datum.a*PI/180)", "as": "ey"}],
    "mark": {"type": "rule", "color": "#e2e2e2", "strokeWidth": 0.9},
    "encoding": {"x": {"field": "ex", "type": "quantitative", "scale": {"domain": [-121.59, 185.46], "nice": false, "zero": false}, "axis": null}, "y": {"field": "ey", "type": "quantitative", "scale": {"domain": [-88.11, 81.06], "nice": false, "zero": false}, "axis": null}, "x2": {"datum": 0}, "y2": {"datum": 0}}},
   {"data": {"name": "rings"}, "transform": [{"calculate": "4*pow(datum.r*2.27,2)", "as": "s"}],
    "mark": {"type": "point", "shape": "circle", "filled": false, "color": "#e2e2e2", "strokeWidth": 0.9, "opacity": 1},
    "encoding": {"x": {"datum": 0, "type": "quantitative", "scale": {"domain": [-121.59, 185.46], "nice": false, "zero": false}, "axis": null}, "y": {"datum": 0, "type": "quantitative", "scale": {"domain": [-88.11, 81.06], "nice": false, "zero": false}, "axis": null}, "size": {"field": "s", "type": "quantitative", "scale": null, "legend": null}}},
   {"data": {"values": [{"r": 72}]}, "transform": [{"calculate": "4*pow(datum.r*2.27,2)", "as": "s"}],
    "mark": {"type": "point", "shape": "circle", "filled": false, "color": "#d0d0d0", "strokeWidth": 1, "opacity": 1},
    "encoding": {"x": {"datum": 0, "type": "quantitative", "scale": {"domain": [-121.59, 185.46], "nice": false, "zero": false}, "axis": null}, "y": {"datum": 0, "type": "quantitative", "scale": {"domain": [-88.11, 81.06], "nice": false, "zero": false}, "axis": null}, "size": {"field": "s", "type": "quantitative", "scale": null, "legend": null}}},
   {"data": {"name": "alabels"}, "transform": [{"calculate": "77.5*cos(datum.a*PI/180)", "as": "px"}, {"calculate": "77.5*sin(datum.a*PI/180)", "as": "py"}],
    "mark": {"type": "text", "fontSize": 13.5, "color": "#3a3a3a", "align": "center", "baseline": "middle"},
    "encoding": {"x": {"field": "px", "type": "quantitative", "scale": {"domain": [-121.59, 185.46], "nice": false, "zero": false}, "axis": null}, "y": {"field": "py", "type": "quantitative", "scale": {"domain": [-88.11, 81.06], "nice": false, "zero": false}, "axis": null}, "text": {"field": "a", "type": "nominal"}}},
   {"data": {"name": "rlabels"}, "transform": [{"calculate": "(datum.v+70)*cos(80*PI/180)", "as": "px"}, {"calculate": "(datum.v+70)*sin(80*PI/180)", "as": "py"}],
    "mark": {"type": "text", "fontSize": 13.5, "color": "#3a3a3a", "align": "center", "baseline": "middle"},
    "encoding": {"x": {"field": "px", "type": "quantitative", "scale": {"domain": [-121.59, 185.46], "nice": false, "zero": false}, "axis": null}, "y": {"field": "py", "type": "quantitative", "scale": {"domain": [-88.11, 81.06], "nice": false, "zero": false}, "axis": null}, "text": {"field": "v", "type": "nominal"}}},
   {"data": {"values": [{"r": 70}]}, "transform": [{"calculate": "4*pow(datum.r*2.27,2)", "as": "s"}],
    "mark": {"type": "point", "shape": "circle", "filled": false, "color": "#222222", "strokeWidth": 1.5, "strokeDash": [7, 5], "opacity": 1},
    "encoding": {"x": {"datum": 0, "type": "quantitative", "scale": {"domain": [-121.59, 185.46], "nice": false, "zero": false}, "axis": null}, "y": {"datum": 0, "type": "quantitative", "scale": {"domain": [-88.11, 81.06], "nice": false, "zero": false}, "axis": null}, "size": {"field": "s", "type": "quantitative", "scale": null, "legend": null}}},
   {"data": {"name": "d2"}, "transform": [{"calculate": "(datum.g+70)*cos(datum.a*PI/180)", "as": "px"}, {"calculate": "(datum.g+70)*sin(datum.a*PI/180)", "as": "py"}],
    "mark": {"type": "line", "strokeWidth": 2.6, "interpolate": "cardinal-closed", "tension": 0.2},
    "encoding": {"x": {"field": "px", "type": "quantitative", "scale": {"domain": [-121.59, 185.46], "nice": false, "zero": false}, "axis": null}, "y": {"field": "py", "type": "quantitative", "scale": {"domain": [-88.11, 81.06], "nice": false, "zero": false}, "axis": null}, "order": {"field": "a", "type": "quantitative"},
     "color": {"field": "f", "type": "nominal", "scale": {"domain": ["3400 MHz", "3600 MHz", "3800 MHz"], "range": ["#0072BD", "#D95319", "#EDB120"]}, "legend": {"legendX": 480, "legendY": 149}}}}
  ]}
 ], "spacing": 0, "resolve": {"scale": {"color": "independent", "size": "independent", "x": "independent", "y": "independent"}, "legend": {"color": "independent"}}},
{"width": 1399, "height": 31, "view": {"fill": "#a6a6a6", "stroke": null},
 "data": {"values": [{"side": "L", "t": "Azimuth: 5000 – 6000 MHz"}, {"side": "R", "t": "Elevation: 2400 – 2500 MHz"}]},
 "mark": {"type": "text", "align": "left", "baseline": "middle", "dx": 15, "dy": 1, "fontSize": 24, "color": "white", "font": "DejaVu Sans"},
 "encoding": {"x": {"field": "side", "type": "nominal", "bandPosition": 0, "scale": {"type": "band", "domain": ["L", "R"], "paddingInner": 0, "paddingOuter": 0}, "axis": null}, "text": {"field": "t", "type": "nominal"}}},
{"hconcat": [
 {"width": 700, "height": 384,
  "layer": [
   {"data": {"name": "spokes"}, "transform": [{"calculate": "72*cos(datum.a*PI/180)", "as": "ex"}, {"calculate": "72*sin(datum.a*PI/180)", "as": "ey"}],
    "mark": {"type": "rule", "color": "#e2e2e2", "strokeWidth": 0.9},
    "encoding": {"x": {"field": "ex", "type": "quantitative", "scale": {"domain": [-122.91, 185.46], "nice": false, "zero": false}, "axis": null}, "y": {"field": "ey", "type": "quantitative", "scale": {"domain": [-87.22, 81.94], "nice": false, "zero": false}, "axis": null}, "x2": {"datum": 0}, "y2": {"datum": 0}}},
   {"data": {"name": "rings"}, "transform": [{"calculate": "4*pow(datum.r*2.27,2)", "as": "s"}],
    "mark": {"type": "point", "shape": "circle", "filled": false, "color": "#e2e2e2", "strokeWidth": 0.9, "opacity": 1},
    "encoding": {"x": {"datum": 0, "type": "quantitative", "scale": {"domain": [-122.91, 185.46], "nice": false, "zero": false}, "axis": null}, "y": {"datum": 0, "type": "quantitative", "scale": {"domain": [-87.22, 81.94], "nice": false, "zero": false}, "axis": null}, "size": {"field": "s", "type": "quantitative", "scale": null, "legend": null}}},
   {"data": {"values": [{"r": 72}]}, "transform": [{"calculate": "4*pow(datum.r*2.27,2)", "as": "s"}],
    "mark": {"type": "point", "shape": "circle", "filled": false, "color": "#d0d0d0", "strokeWidth": 1, "opacity": 1},
    "encoding": {"x": {"datum": 0, "type": "quantitative", "scale": {"domain": [-122.91, 185.46], "nice": false, "zero": false}, "axis": null}, "y": {"datum": 0, "type": "quantitative", "scale": {"domain": [-87.22, 81.94], "nice": false, "zero": false}, "axis": null}, "size": {"field": "s", "type": "quantitative", "scale": null, "legend": null}}},
   {"data": {"name": "alabels"}, "transform": [{"calculate": "77.5*cos(datum.a*PI/180)", "as": "px"}, {"calculate": "77.5*sin(datum.a*PI/180)", "as": "py"}],
    "mark": {"type": "text", "fontSize": 13.5, "color": "#3a3a3a", "align": "center", "baseline": "middle"},
    "encoding": {"x": {"field": "px", "type": "quantitative", "scale": {"domain": [-122.91, 185.46], "nice": false, "zero": false}, "axis": null}, "y": {"field": "py", "type": "quantitative", "scale": {"domain": [-87.22, 81.94], "nice": false, "zero": false}, "axis": null}, "text": {"field": "a", "type": "nominal"}}},
   {"data": {"name": "rlabels"}, "transform": [{"calculate": "(datum.v+70)*cos(80*PI/180)", "as": "px"}, {"calculate": "(datum.v+70)*sin(80*PI/180)", "as": "py"}],
    "mark": {"type": "text", "fontSize": 13.5, "color": "#3a3a3a", "align": "center", "baseline": "middle"},
    "encoding": {"x": {"field": "px", "type": "quantitative", "scale": {"domain": [-122.91, 185.46], "nice": false, "zero": false}, "axis": null}, "y": {"field": "py", "type": "quantitative", "scale": {"domain": [-87.22, 81.94], "nice": false, "zero": false}, "axis": null}, "text": {"field": "v", "type": "nominal"}}},
   {"data": {"values": [{"r": 70}]}, "transform": [{"calculate": "4*pow(datum.r*2.27,2)", "as": "s"}],
    "mark": {"type": "point", "shape": "circle", "filled": false, "color": "#222222", "strokeWidth": 1.5, "strokeDash": [7, 5], "opacity": 1},
    "encoding": {"x": {"datum": 0, "type": "quantitative", "scale": {"domain": [-122.91, 185.46], "nice": false, "zero": false}, "axis": null}, "y": {"datum": 0, "type": "quantitative", "scale": {"domain": [-87.22, 81.94], "nice": false, "zero": false}, "axis": null}, "size": {"field": "s", "type": "quantitative", "scale": null, "legend": null}}},
   {"data": {"name": "d3"}, "transform": [{"calculate": "(datum.g+70)*cos(datum.a*PI/180)", "as": "px"}, {"calculate": "(datum.g+70)*sin(datum.a*PI/180)", "as": "py"}],
    "mark": {"type": "line", "strokeWidth": 2.6, "interpolate": "cardinal-closed", "tension": 0.2},
    "encoding": {"x": {"field": "px", "type": "quantitative", "scale": {"domain": [-122.91, 185.46], "nice": false, "zero": false}, "axis": null}, "y": {"field": "py", "type": "quantitative", "scale": {"domain": [-87.22, 81.94], "nice": false, "zero": false}, "axis": null}, "order": {"field": "a", "type": "quantitative"},
     "color": {"field": "f", "type": "nominal", "scale": {"domain": ["4700 MHz", "5400 MHz", "5800 MHz"], "range": ["#0072BD", "#D95319", "#EDB120"]}, "legend": {"legendX": 485, "legendY": 150}}}}
  ]},
 {"width": 2, "height": 384, "view": {"fill": "#d4d4d4", "stroke": null}, "data": {"values": [{"k": 1}]}, "mark": {"type": "text"}, "encoding": {"text": {"value": ""}}},
 {"width": 697, "height": 384,
  "layer": [
   {"data": {"name": "spokes"}, "transform": [{"calculate": "72*cos(datum.a*PI/180)", "as": "ex"}, {"calculate": "72*sin(datum.a*PI/180)", "as": "ey"}],
    "mark": {"type": "rule", "color": "#e2e2e2", "strokeWidth": 0.9},
    "encoding": {"x": {"field": "ex", "type": "quantitative", "scale": {"domain": [-122.91, 184.14], "nice": false, "zero": false}, "axis": null}, "y": {"field": "ey", "type": "quantitative", "scale": {"domain": [-86.78, 82.38], "nice": false, "zero": false}, "axis": null}, "x2": {"datum": 0}, "y2": {"datum": 0}}},
   {"data": {"name": "rings"}, "transform": [{"calculate": "4*pow(datum.r*2.27,2)", "as": "s"}],
    "mark": {"type": "point", "shape": "circle", "filled": false, "color": "#e2e2e2", "strokeWidth": 0.9, "opacity": 1},
    "encoding": {"x": {"datum": 0, "type": "quantitative", "scale": {"domain": [-122.91, 184.14], "nice": false, "zero": false}, "axis": null}, "y": {"datum": 0, "type": "quantitative", "scale": {"domain": [-86.78, 82.38], "nice": false, "zero": false}, "axis": null}, "size": {"field": "s", "type": "quantitative", "scale": null, "legend": null}}},
   {"data": {"values": [{"r": 72}]}, "transform": [{"calculate": "4*pow(datum.r*2.27,2)", "as": "s"}],
    "mark": {"type": "point", "shape": "circle", "filled": false, "color": "#d0d0d0", "strokeWidth": 1, "opacity": 1},
    "encoding": {"x": {"datum": 0, "type": "quantitative", "scale": {"domain": [-122.91, 184.14], "nice": false, "zero": false}, "axis": null}, "y": {"datum": 0, "type": "quantitative", "scale": {"domain": [-86.78, 82.38], "nice": false, "zero": false}, "axis": null}, "size": {"field": "s", "type": "quantitative", "scale": null, "legend": null}}},
   {"data": {"name": "alabels"}, "transform": [{"calculate": "77.5*cos(datum.a*PI/180)", "as": "px"}, {"calculate": "77.5*sin(datum.a*PI/180)", "as": "py"}],
    "mark": {"type": "text", "fontSize": 13.5, "color": "#3a3a3a", "align": "center", "baseline": "middle"},
    "encoding": {"x": {"field": "px", "type": "quantitative", "scale": {"domain": [-122.91, 184.14], "nice": false, "zero": false}, "axis": null}, "y": {"field": "py", "type": "quantitative", "scale": {"domain": [-86.78, 82.38], "nice": false, "zero": false}, "axis": null}, "text": {"field": "a", "type": "nominal"}}},
   {"data": {"name": "rlabels"}, "transform": [{"calculate": "(datum.v+70)*cos(80*PI/180)", "as": "px"}, {"calculate": "(datum.v+70)*sin(80*PI/180)", "as": "py"}],
    "mark": {"type": "text", "fontSize": 13.5, "color": "#3a3a3a", "align": "center", "baseline": "middle"},
    "encoding": {"x": {"field": "px", "type": "quantitative", "scale": {"domain": [-122.91, 184.14], "nice": false, "zero": false}, "axis": null}, "y": {"field": "py", "type": "quantitative", "scale": {"domain": [-86.78, 82.38], "nice": false, "zero": false}, "axis": null}, "text": {"field": "v", "type": "nominal"}}},
   {"data": {"values": [{"r": 70}]}, "transform": [{"calculate": "4*pow(datum.r*2.27,2)", "as": "s"}],
    "mark": {"type": "point", "shape": "circle", "filled": false, "color": "#222222", "strokeWidth": 1.5, "strokeDash": [7, 5], "opacity": 1},
    "encoding": {"x": {"datum": 0, "type": "quantitative", "scale": {"domain": [-122.91, 184.14], "nice": false, "zero": false}, "axis": null}, "y": {"datum": 0, "type": "quantitative", "scale": {"domain": [-86.78, 82.38], "nice": false, "zero": false}, "axis": null}, "size": {"field": "s", "type": "quantitative", "scale": null, "legend": null}}},
   {"data": {"name": "d4"}, "transform": [{"calculate": "(datum.g+70)*cos(datum.a*PI/180)", "as": "px"}, {"calculate": "(datum.g+70)*sin(datum.a*PI/180)", "as": "py"}],
    "mark": {"type": "line", "strokeWidth": 2.6, "interpolate": "cardinal-closed", "tension": 0.2},
    "encoding": {"x": {"field": "px", "type": "quantitative", "scale": {"domain": [-122.91, 184.14], "nice": false, "zero": false}, "axis": null}, "y": {"field": "py", "type": "quantitative", "scale": {"domain": [-86.78, 82.38], "nice": false, "zero": false}, "axis": null}, "order": {"field": "a", "type": "quantitative"},
     "color": {"field": "f", "type": "nominal", "scale": {"domain": ["2400 MHz", "2450 MHz", "2500 MHz"], "range": ["#0072BD", "#D95319", "#EDB120"]}, "legend": {"legendX": 486, "legendY": 151}}}}
  ]}
 ], "spacing": 0, "resolve": {"scale": {"color": "independent", "size": "independent", "x": "independent", "y": "independent"}, "legend": {"color": "independent"}}},
{"width": 1399, "height": 31, "view": {"fill": "#a6a6a6", "stroke": null},
 "data": {"values": [{"side": "L", "t": "Elevation: 3300 – 3800 MHz"}, {"side": "R", "t": "Elevation: 5000 – 6000 MHz"}]},
 "mark": {"type": "text", "align": "left", "baseline": "middle", "dx": 15, "dy": 1, "fontSize": 24, "color": "white", "font": "DejaVu Sans"},
 "encoding": {"x": {"field": "side", "type": "nominal", "bandPosition": 0, "scale": {"type": "band", "domain": ["L", "R"], "paddingInner": 0, "paddingOuter": 0}, "axis": null}, "text": {"field": "t", "type": "nominal"}}},
{"hconcat": [
 {"width": 700, "height": 380,
  "layer": [
   {"data": {"name": "spokes"}, "transform": [{"calculate": "72*cos(datum.a*PI/180)", "as": "ex"}, {"calculate": "72*sin(datum.a*PI/180)", "as": "ey"}],
    "mark": {"type": "rule", "color": "#e2e2e2", "strokeWidth": 0.9},
    "encoding": {"x": {"field": "ex", "type": "quantitative", "scale": {"domain": [-124.23, 184.14], "nice": false, "zero": false}, "axis": null}, "y": {"field": "ey", "type": "quantitative", "scale": {"domain": [-82.82, 84.58], "nice": false, "zero": false}, "axis": null}, "x2": {"datum": 0}, "y2": {"datum": 0}}},
   {"data": {"name": "rings"}, "transform": [{"calculate": "4*pow(datum.r*2.27,2)", "as": "s"}],
    "mark": {"type": "point", "shape": "circle", "filled": false, "color": "#e2e2e2", "strokeWidth": 0.9, "opacity": 1},
    "encoding": {"x": {"datum": 0, "type": "quantitative", "scale": {"domain": [-124.23, 184.14], "nice": false, "zero": false}, "axis": null}, "y": {"datum": 0, "type": "quantitative", "scale": {"domain": [-82.82, 84.58], "nice": false, "zero": false}, "axis": null}, "size": {"field": "s", "type": "quantitative", "scale": null, "legend": null}}},
   {"data": {"values": [{"r": 72}]}, "transform": [{"calculate": "4*pow(datum.r*2.27,2)", "as": "s"}],
    "mark": {"type": "point", "shape": "circle", "filled": false, "color": "#d0d0d0", "strokeWidth": 1, "opacity": 1},
    "encoding": {"x": {"datum": 0, "type": "quantitative", "scale": {"domain": [-124.23, 184.14], "nice": false, "zero": false}, "axis": null}, "y": {"datum": 0, "type": "quantitative", "scale": {"domain": [-82.82, 84.58], "nice": false, "zero": false}, "axis": null}, "size": {"field": "s", "type": "quantitative", "scale": null, "legend": null}}},
   {"data": {"name": "alabels"}, "transform": [{"calculate": "77.5*cos(datum.a*PI/180)", "as": "px"}, {"calculate": "77.5*sin(datum.a*PI/180)", "as": "py"}],
    "mark": {"type": "text", "fontSize": 13.5, "color": "#3a3a3a", "align": "center", "baseline": "middle"},
    "encoding": {"x": {"field": "px", "type": "quantitative", "scale": {"domain": [-124.23, 184.14], "nice": false, "zero": false}, "axis": null}, "y": {"field": "py", "type": "quantitative", "scale": {"domain": [-82.82, 84.58], "nice": false, "zero": false}, "axis": null}, "text": {"field": "a", "type": "nominal"}}},
   {"data": {"name": "rlabels"}, "transform": [{"calculate": "(datum.v+70)*cos(80*PI/180)", "as": "px"}, {"calculate": "(datum.v+70)*sin(80*PI/180)", "as": "py"}],
    "mark": {"type": "text", "fontSize": 13.5, "color": "#3a3a3a", "align": "center", "baseline": "middle"},
    "encoding": {"x": {"field": "px", "type": "quantitative", "scale": {"domain": [-124.23, 184.14], "nice": false, "zero": false}, "axis": null}, "y": {"field": "py", "type": "quantitative", "scale": {"domain": [-82.82, 84.58], "nice": false, "zero": false}, "axis": null}, "text": {"field": "v", "type": "nominal"}}},
   {"data": {"values": [{"r": 70}]}, "transform": [{"calculate": "4*pow(datum.r*2.27,2)", "as": "s"}],
    "mark": {"type": "point", "shape": "circle", "filled": false, "color": "#222222", "strokeWidth": 1.5, "strokeDash": [7, 5], "opacity": 1},
    "encoding": {"x": {"datum": 0, "type": "quantitative", "scale": {"domain": [-124.23, 184.14], "nice": false, "zero": false}, "axis": null}, "y": {"datum": 0, "type": "quantitative", "scale": {"domain": [-82.82, 84.58], "nice": false, "zero": false}, "axis": null}, "size": {"field": "s", "type": "quantitative", "scale": null, "legend": null}}},
   {"data": {"name": "d5"}, "transform": [{"calculate": "(datum.g+70)*cos(datum.a*PI/180)", "as": "px"}, {"calculate": "(datum.g+70)*sin(datum.a*PI/180)", "as": "py"}],
    "mark": {"type": "line", "strokeWidth": 2.6, "interpolate": "cardinal-closed", "tension": 0.2},
    "encoding": {"x": {"field": "px", "type": "quantitative", "scale": {"domain": [-124.23, 184.14], "nice": false, "zero": false}, "axis": null}, "y": {"field": "py", "type": "quantitative", "scale": {"domain": [-82.82, 84.58], "nice": false, "zero": false}, "axis": null}, "order": {"field": "a", "type": "quantitative"},
     "color": {"field": "f", "type": "nominal", "scale": {"domain": ["3400 MHz", "3600 MHz", "3800 MHz"], "range": ["#0072BD", "#D95319", "#EDB120"]}, "legend": {"legendX": 488, "legendY": 155}}}}
  ]},
 {"width": 2, "height": 380, "view": {"fill": "#d4d4d4", "stroke": null}, "data": {"values": [{"k": 1}]}, "mark": {"type": "text"}, "encoding": {"text": {"value": ""}}},
 {"width": 697, "height": 380,
  "layer": [
   {"data": {"name": "spokes"}, "transform": [{"calculate": "72*cos(datum.a*PI/180)", "as": "ex"}, {"calculate": "72*sin(datum.a*PI/180)", "as": "ey"}],
    "mark": {"type": "rule", "color": "#e2e2e2", "strokeWidth": 0.9},
    "encoding": {"x": {"field": "ex", "type": "quantitative", "scale": {"domain": [-122.03, 185.02], "nice": false, "zero": false}, "axis": null}, "y": {"field": "ey", "type": "quantitative", "scale": {"domain": [-85.02, 82.38], "nice": false, "zero": false}, "axis": null}, "x2": {"datum": 0}, "y2": {"datum": 0}}},
   {"data": {"name": "rings"}, "transform": [{"calculate": "4*pow(datum.r*2.27,2)", "as": "s"}],
    "mark": {"type": "point", "shape": "circle", "filled": false, "color": "#e2e2e2", "strokeWidth": 0.9, "opacity": 1},
    "encoding": {"x": {"datum": 0, "type": "quantitative", "scale": {"domain": [-122.03, 185.02], "nice": false, "zero": false}, "axis": null}, "y": {"datum": 0, "type": "quantitative", "scale": {"domain": [-85.02, 82.38], "nice": false, "zero": false}, "axis": null}, "size": {"field": "s", "type": "quantitative", "scale": null, "legend": null}}},
   {"data": {"values": [{"r": 72}]}, "transform": [{"calculate": "4*pow(datum.r*2.27,2)", "as": "s"}],
    "mark": {"type": "point", "shape": "circle", "filled": false, "color": "#d0d0d0", "strokeWidth": 1, "opacity": 1},
    "encoding": {"x": {"datum": 0, "type": "quantitative", "scale": {"domain": [-122.03, 185.02], "nice": false, "zero": false}, "axis": null}, "y": {"datum": 0, "type": "quantitative", "scale": {"domain": [-85.02, 82.38], "nice": false, "zero": false}, "axis": null}, "size": {"field": "s", "type": "quantitative", "scale": null, "legend": null}}},
   {"data": {"name": "alabels"}, "transform": [{"calculate": "77.5*cos(datum.a*PI/180)", "as": "px"}, {"calculate": "77.5*sin(datum.a*PI/180)", "as": "py"}],
    "mark": {"type": "text", "fontSize": 13.5, "color": "#3a3a3a", "align": "center", "baseline": "middle"},
    "encoding": {"x": {"field": "px", "type": "quantitative", "scale": {"domain": [-122.03, 185.02], "nice": false, "zero": false}, "axis": null}, "y": {"field": "py", "type": "quantitative", "scale": {"domain": [-85.02, 82.38], "nice": false, "zero": false}, "axis": null}, "text": {"field": "a", "type": "nominal"}}},
   {"data": {"name": "rlabels"}, "transform": [{"calculate": "(datum.v+70)*cos(80*PI/180)", "as": "px"}, {"calculate": "(datum.v+70)*sin(80*PI/180)", "as": "py"}],
    "mark": {"type": "text", "fontSize": 13.5, "color": "#3a3a3a", "align": "center", "baseline": "middle"},
    "encoding": {"x": {"field": "px", "type": "quantitative", "scale": {"domain": [-122.03, 185.02], "nice": false, "zero": false}, "axis": null}, "y": {"field": "py", "type": "quantitative", "scale": {"domain": [-85.02, 82.38], "nice": false, "zero": false}, "axis": null}, "text": {"field": "v", "type": "nominal"}}},
   {"data": {"values": [{"r": 70}]}, "transform": [{"calculate": "4*pow(datum.r*2.27,2)", "as": "s"}],
    "mark": {"type": "point", "shape": "circle", "filled": false, "color": "#222222", "strokeWidth": 1.5, "strokeDash": [7, 5], "opacity": 1},
    "encoding": {"x": {"datum": 0, "type": "quantitative", "scale": {"domain": [-122.03, 185.02], "nice": false, "zero": false}, "axis": null}, "y": {"datum": 0, "type": "quantitative", "scale": {"domain": [-85.02, 82.38], "nice": false, "zero": false}, "axis": null}, "size": {"field": "s", "type": "quantitative", "scale": null, "legend": null}}},
   {"data": {"name": "d6"}, "transform": [{"calculate": "(datum.g+70)*cos(datum.a*PI/180)", "as": "px"}, {"calculate": "(datum.g+70)*sin(datum.a*PI/180)", "as": "py"}],
    "mark": {"type": "line", "strokeWidth": 2.6, "interpolate": "cardinal-closed", "tension": 0.2},
    "encoding": {"x": {"field": "px", "type": "quantitative", "scale": {"domain": [-122.03, 185.02], "nice": false, "zero": false}, "axis": null}, "y": {"field": "py", "type": "quantitative", "scale": {"domain": [-85.02, 82.38], "nice": false, "zero": false}, "axis": null}, "order": {"field": "a", "type": "quantitative"},
     "color": {"field": "f", "type": "nominal", "scale": {"domain": ["4700 MHz", "5400 MHz", "5800 MHz"], "range": ["#0072BD", "#D95319", "#EDB120"]}, "legend": {"legendX": 482, "legendY": 151}}}}
  ]}
 ], "spacing": 0, "resolve": {"scale": {"color": "independent", "size": "independent", "x": "independent", "y": "independent"}, "legend": {"color": "independent"}}}
]
}
